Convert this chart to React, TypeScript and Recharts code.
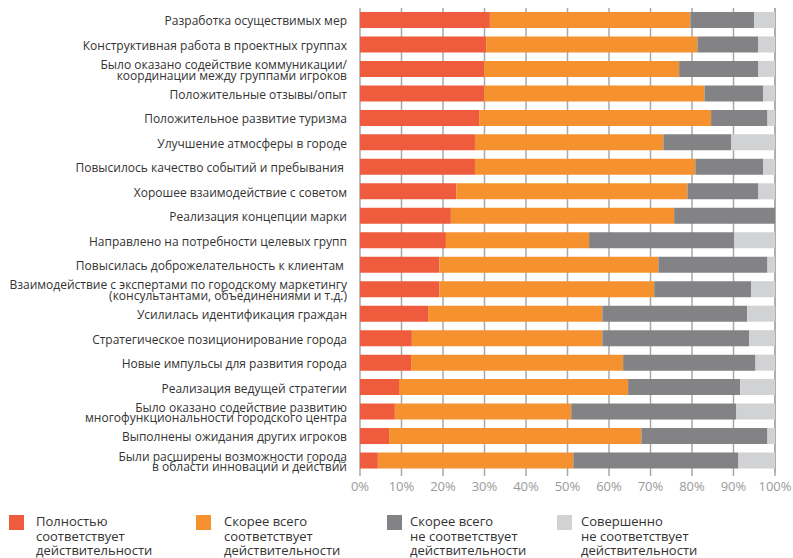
import React from "react";
import { BarChart, Bar, XAxis, YAxis, CartesianGrid, Legend } from "recharts";

const categories = [
  "Разработка осуществимых мер",
  "Конструктивная работа в проектных группах",
  "Было оказано содействие коммуникации/\nкоординации между группами игроков",
  "Положительные отзывы/опыт",
  "Положительное развитие туризма",
  "Улучшение атмосферы в городе",
  "Повысилось качество событий и пребывания\u00a0",
  "Хорошее взаимодействие с советом",
  "Реализация концепции марки",
  "Направлено на потребности целевых групп",
  "Повысилась доброжелательность к клиентам\u00a0",
  "Взаимодействие с экспертами по городскому маркетингу\n(консультантами, объединениями и т.д.)",
  "Усилилась идентификация граждан",
  "Стратегическое позиционирование города",
  "Новые импульсы для развития города",
  "Реализация ведущей стратегии",
  "Было оказано содействие развитию\nмногофункциональности городского центра",
  "Выполнены ожидания других игроков",
  "Были расширены возможности города\nв области инноваций и действий",
];

const fully = [31.3, 30.4, 29.9, 29.9, 28.7, 27.7, 27.7, 23.2, 21.9, 20.7, 19.1, 19.1, 16.4, 12.5, 12.3, 9.4, 8.4, 7.0, 4.3];
const rather = [48.3, 50.9, 47.0, 53.1, 55.9, 45.4, 53.1, 55.7, 53.8, 34.5, 52.8, 51.8, 42.0, 45.9, 51.1, 55.2, 42.5, 60.8, 47.1];
const ratherNot = [15.4, 14.7, 19.1, 14.2, 13.6, 16.4, 16.4, 17.1, 24.3, 35.0, 26.3, 23.4, 34.9, 35.4, 31.9, 27.0, 39.8, 30.4, 39.8];
const notAtAll = [5.0, 4.0, 4.0, 2.8, 1.8, 10.5, 2.8, 4.0, 0, 9.8, 1.8, 5.7, 6.7, 6.2, 4.7, 8.4, 9.3, 1.8, 8.8];

const ticks = [0, 10, 20, 30, 40, 50, 60, 70, 80, 90, 100];

const series = [
  { key: "fully", color: "#ef5b3d", label: ["Полностью", "соответствует", "действительности"] },
  { key: "rather", color: "#f5922f", label: ["Скорее всего", "соответствует", "действительности"] },
  { key: "ratherNot", color: "#838386", label: ["Скорее всего", "не соответствует", "действительности"] },
  { key: "notAtAll", color: "#d1d2d4", label: ["Совершенно", "не соответствует", "действительности"] },
];

const data = categories.map((name, i) => ({
  name,
  fully: fully[i],
  rather: rather[i],
  ratherNot: ratherNot[i],
  notAtAll: notAtAll[i],
}));

const FONT = "'Open Sans', sans-serif";

const CategoryTick = (props: any) => {
  const { y, payload } = props;
  const lines = String(payload.value).split("\n");
  const lh = 10.5;
  const start = -((lines.length - 1) * lh) / 2 + 1;
  return (
    <text x={347} y={y} textAnchor="end" fontFamily={FONT} fontSize={12} fill="#333" xmlSpace="preserve">
      {lines.map((l, i) => (
        <tspan key={i} x={347} y={y + start + i * lh} dy="0.35em">
          {l}
        </tspan>
      ))}
    </text>
  );
};

const legendX = [
  { sq: 9, tx: 36 },
  { sq: 196, tx: 224 },
  { sq: 387, tx: 410 },
  { sq: 557, tx: 581 },
];

const LegendContent = () => (
  <div style={{ position: "relative", width: 793, height: 50, fontFamily: FONT }}>
    {series.map((s, i) => (
      <div key={s.key}>
        <div
          style={{
            position: "absolute",
            left: legendX[i].sq,
            top: 1,
            width: 15,
            height: 15,
            background: s.color,
          }}
        />
        <div
          style={{
            position: "absolute",
            left: legendX[i].tx,
            top: 0,
            fontSize: 13,
            lineHeight: "14.5px",
            color: "#333",
            whiteSpace: "nowrap",
          }}
        >
          {s.label.map((l, j) => (
            <div key={j}>{l}</div>
          ))}
        </div>
      </div>
    ))}
  </div>
);

const App = () => {
  return (
    <div style={{ position: "absolute", left: 0, top: 0, width: 793, height: 558, background: "#fff" }}>
      <BarChart
        width={793}
        height={558}
        data={data}
        layout="vertical"
        margin={{ top: 8, right: 18, left: 0, bottom: 55 }}
        barSize={16}
      >
        <CartesianGrid horizontal={false} vertical stroke="#a7a8aa" strokeWidth={1.5} />
        <XAxis
          type="number"
          domain={[0, 100]}
          ticks={ticks}
          tickFormatter={(v) => `${v}%`}
          axisLine={false}
          tickLine={{ stroke: "#a7a8aa", strokeWidth: 1.5 }}
          tickSize={3}
          tickMargin={6}
          height={30}
          interval={0}
          tick={{ fill: "#9a9a9a", fontSize: 13, fontFamily: FONT }}
        />
        <YAxis
          type="category"
          dataKey="name"
          width={360}
          axisLine={false}
          tickLine={false}
          interval={0}
          tick={<CategoryTick />}
        />
        {series.map((s) => (
          <Bar key={s.key} dataKey={s.key} stackId="a" fill={s.color} isAnimationActive={false} />
        ))}
        <Legend
          layout="vertical"
          align="center"
          verticalAlign="middle"
          wrapperStyle={{ top: 514, left: 0, width: 793 }}
          content={<LegendContent />}
        />
      </BarChart>
    </div>
  );
};

export default App;
